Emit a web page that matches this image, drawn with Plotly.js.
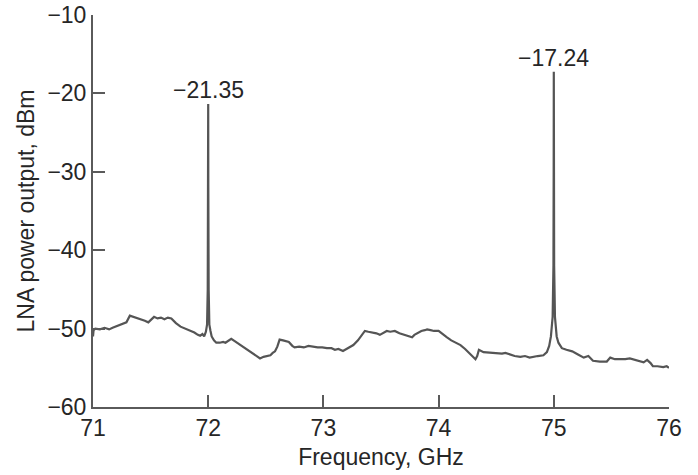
<!DOCTYPE html>
<html>
<head>
<meta charset="utf-8">
<script src="https://cdn.plot.ly/plotly-3.0.1.min.js"></script>
<style>
  html, body { margin: 0; padding: 0; background: #fff; }
  #chart { width: 698px; height: 475px; }
</style>
</head>
<body>
<div id="chart"></div>
<script>
// Spectrum analyser sweep of the LNA output, 71–76 GHz
const freqGHz = [
  71.000, 71.005, 71.02, 71.06, 71.10, 71.14, 71.17, 71.21, 71.26, 71.29,
  71.32, 71.35, 71.39, 71.42, 71.45, 71.48, 71.51, 71.53, 71.56, 71.59,
  71.62, 71.65, 71.68, 71.72, 71.76, 71.80, 71.84, 71.88, 71.91, 71.93,
  71.95, 71.965, 71.98, 71.99, 71.996, 71.999, 72.000, 72.001, 72.004, 72.01,
  72.02, 72.03, 72.05, 72.07, 72.10, 72.13, 72.15, 72.18, 72.20, 72.23,
  72.25, 72.28, 72.30, 72.33, 72.36, 72.39, 72.42, 72.45, 72.48, 72.51,
  72.54, 72.56, 72.58, 72.60, 72.62, 72.65, 72.68, 72.70, 72.73, 72.75,
  72.79, 72.83, 72.87, 72.91, 72.95, 72.99, 73.03, 73.07, 73.10, 73.13,
  73.17, 73.20, 73.23, 73.26, 73.30, 73.33, 73.36, 73.39, 73.42, 73.46,
  73.49, 73.52, 73.55, 73.58, 73.62, 73.66, 73.70, 73.74, 73.77, 73.79,
  73.81, 73.85, 73.88, 73.90, 73.93, 73.96, 74.00, 74.04, 74.07, 74.11,
  74.15, 74.19, 74.23, 74.27, 74.30, 74.32, 74.335, 74.35, 74.39, 74.45,
  74.50, 74.55, 74.58, 74.62, 74.66, 74.71, 74.75, 74.79, 74.82, 74.86,
  74.91, 74.94, 74.96, 74.975, 74.99, 74.997, 74.999, 75.000, 75.001, 75.003,
  75.01, 75.025, 75.04, 75.07, 75.11, 75.16, 75.21, 75.26, 75.30, 75.34,
  75.40, 75.46, 75.49, 75.53, 75.57, 75.62, 75.66, 75.69, 75.74, 75.78,
  75.81, 75.84, 75.86, 75.90, 75.95, 75.98, 76.00
];
const powerDBm = [
  -51.0, -50.2, -50.0, -50.1, -49.9, -50.1, -49.9, -49.7, -49.4, -49.2,
  -48.35, -48.5, -48.6, -48.8, -49.0, -49.2, -48.8, -48.5, -48.7, -48.6,
  -48.8, -48.6, -48.7, -49.3, -49.75, -50.0, -50.3, -50.5, -50.8, -50.9,
  -50.7, -51.0, -50.4, -49.5, -45, -32, -21.35, -32, -45, -49.5,
  -50.3, -51.0, -51.5, -51.8, -51.8, -51.7, -51.8, -51.5, -51.3, -51.6,
  -51.8, -52.1, -52.3, -52.65, -52.9, -53.3, -53.6, -53.8, -53.6, -53.5,
  -53.4, -53.1, -52.9, -52.3, -51.4, -51.5, -51.6, -51.7, -52.2, -52.4,
  -52.3, -52.4, -52.2, -52.3, -52.4, -52.4, -52.5, -52.5, -52.7, -52.6,
  -52.85, -52.6, -52.3, -52.1, -51.5, -50.9, -50.3, -50.4, -50.5, -50.6,
  -50.8, -50.5, -50.3, -50.4, -50.3, -50.6, -50.8, -51.0, -51.1, -50.8,
  -50.6, -50.3, -50.2, -50.1, -50.2, -50.3, -50.3, -50.8, -51.1, -51.5,
  -51.8, -52.1, -52.6, -53.2, -53.6, -53.9, -53.5, -52.7, -53.0, -53.1,
  -53.2, -53.2, -53.1, -53.3, -53.5, -53.6, -53.5, -53.7, -53.6, -53.5,
  -53.4, -53.0, -52.2, -51.0, -48.5, -42, -30, -17.24, -30, -42,
  -48.5, -51.0, -51.8, -52.5, -52.7, -52.9, -53.3, -53.7, -53.5, -54.1,
  -54.2, -54.2, -53.7, -53.9, -53.9, -53.9, -53.8, -53.9, -54.1, -54.3,
  -54.0, -54.4, -54.8, -54.8, -54.9, -54.8, -55.0
];

// Tone peaks that carry a value label
const peakFreqGHz = [72, 75];
const peakPowerDBm = [-21.35, -17.24];

const xTicks = [71, 72, 73, 74, 75, 76];
const yTicks = [-60, -50, -40, -30, -20, -10];

const textFont = { family: 'Liberation Sans, Arial, sans-serif', size: 23, color: '#262626' };
const axisColor = '#5a5a5a';

const fmt = v => (v < 0 ? '\u2212' : '') + Math.abs(v).toFixed(2);

const trace = {
  type: 'scatter',
  mode: 'lines',
  x: freqGHz,
  y: powerDBm,
  line: { color: '#555555', width: 2.2 },
  hoverinfo: 'x+y'
};

const annotations = peakFreqGHz.map((f, i) => ({
  x: f,
  y: peakPowerDBm[i],
  xref: 'x',
  yref: 'y',
  text: fmt(peakPowerDBm[i]),
  showarrow: false,
  xanchor: 'center',
  yanchor: 'middle',
  yshift: 14,
  font: textFont
}));

const layout = {
  width: 698,
  height: 475,
  margin: { l: 93, r: 29, t: 15, b: 68 },
  paper_bgcolor: '#ffffff',
  plot_bgcolor: '#ffffff',
  showlegend: false,
  font: textFont,
  xaxis: {
    range: [71, 76],
    tickvals: xTicks,
    ticktext: xTicks.map(String),
    ticks: 'inside',
    ticklen: 12,
    tickwidth: 2,
    tickcolor: axisColor,
    ticklabelstandoff: -1,
    showline: true,
    linecolor: axisColor,
    linewidth: 2,
    showgrid: false,
    zeroline: false,
    tickfont: textFont,
    title: { text: 'Frequency, GHz', font: textFont, standoff: 9 }
  },
  yaxis: {
    range: [-60, -10],
    tickvals: yTicks,
    ticks: 'inside',
    ticklen: 12,
    tickwidth: 2,
    tickcolor: axisColor,
    showline: true,
    linecolor: axisColor,
    linewidth: 2,
    showgrid: false,
    zeroline: false,
    tickfont: textFont,
    title: { text: 'LNA power output, dBm', font: textFont, standoff: 6 }
  },
  annotations: annotations
};

Plotly.newPlot('chart', [trace], layout, { displayModeBar: false, staticPlot: true });
</script>
</body>
</html>
